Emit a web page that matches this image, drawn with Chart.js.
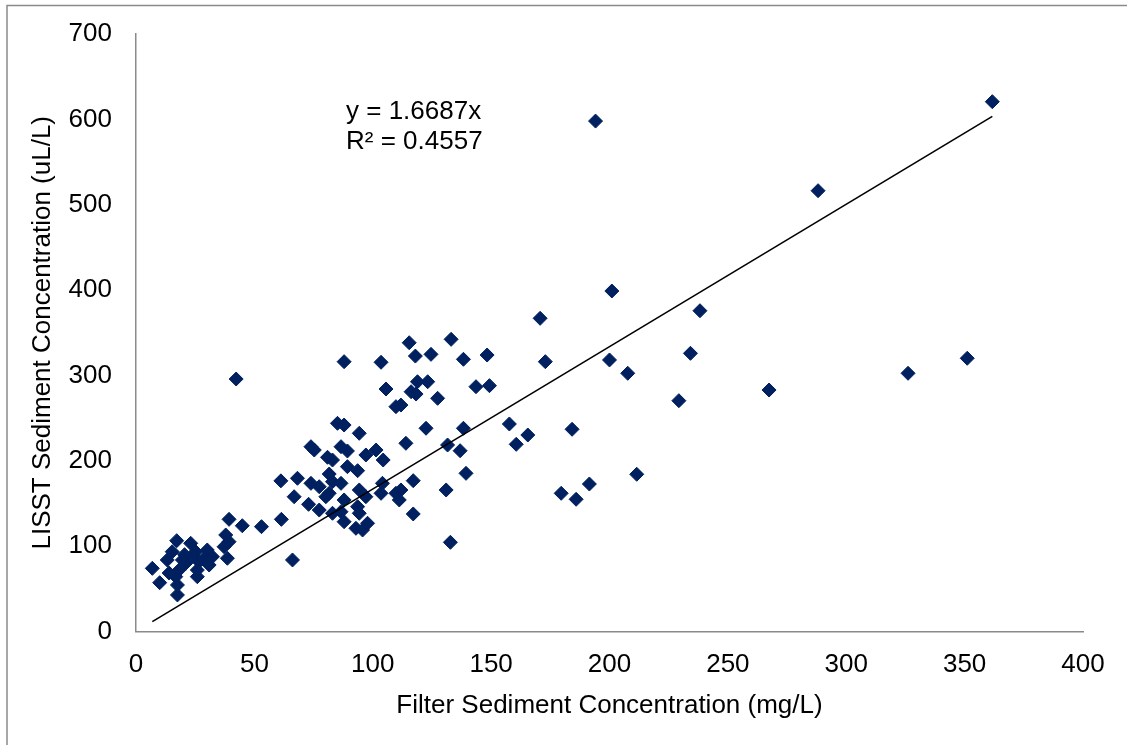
<!DOCTYPE html>
<html>
<head>
<meta charset="utf-8">
<script src="https://cdn.jsdelivr.net/npm/chart.js@4"></script>
<style>
  html, body { margin: 0; padding: 0; background: #fff; }
  #wrap { position: relative; width: 1127px; height: 745px; }
  canvas { display: block; }
</style>
</head>
<body>
<div id="wrap"><canvas id="c" width="1127" height="745"></canvas></div>
<script>
// Filter sediment concentration (mg/L)
const filterX = [
  6.9, 10.0, 17.5, 17.5, 16.8, 13.2, 15.3, 17.2, 23.1, 19.6, 25.2, 30.1, 32.3, 30.9, 25.9, 18.2, 21.0, 26.6, 14.0,
  24.0, 28.5, 20.5, 25.9,
  37.9, 39.3, 37.2, 38.6, 39.3, 44.9, 53.0, 61.4, 66.1, 42.3,
  61.2, 66.8, 68.2, 72.9, 73.9, 73.9, 75.3, 77.4, 77.4, 80.2, 80.9, 81.6, 81.6, 83.0, 83.0, 83.0,
  85.1, 86.6, 86.6, 86.6, 87.9, 87.9, 87.9, 87.9, 89.3, 89.3, 92.9, 93.6, 93.6, 94.3, 94.3, 94.3,
  95.7, 97.1, 97.1, 97.8, 101.4, 103.5, 103.5, 104.1, 104.4, 105.6, 109.8, 109.8, 111.2, 111.9, 111.9,
  114.0, 115.4, 116.2, 117.1, 117.1, 118.0, 118.3, 118.9, 122.5, 123.2, 124.6, 127.4, 131.0, 131.6,
  132.8, 133.1, 136.9, 138.3, 138.3, 139.4, 143.6, 148.3, 149.3, 157.7, 160.6, 165.5, 170.7, 172.9,
  179.6, 184.2, 185.9, 191.5, 194.1, 200.0, 201.0, 207.7, 211.5, 229.3, 234.2, 238.2, 267.4, 288.1,
  326.1, 351.1, 361.7
];
// LISST sediment concentration (uL/L)
const lisstY = [
  74.0, 57.2, 42.8, 54.5, 64.2, 83.8, 93.5, 106.4, 103.3, 83.8, 93.5, 95.5, 87.6, 77.9, 72.0, 72.0, 79.9, 81.8, 68.5,
  88.0, 85.0, 90.0, 64.2,
  113.1, 105.2, 99.3, 85.8, 131.4, 123.9, 122.8, 131.4, 83.8, 295.8,
  176.5, 157.9, 179.5, 149.0, 173.6, 216.5, 212.6, 169.6, 142.3, 157.9, 204.1, 184.5, 161.9, 200.9, 175.5, 138.5,
  243.9, 216.5, 173.6, 140.3, 241.9, 316.1, 154.1, 128.6, 211.5, 193.1, 120.9, 188.4, 146.2, 232.2, 165.8, 138.5,
  118.9, 206.8, 157.9, 126.8, 212.6, 315.4, 161.9, 173.6, 200.9, 284.1, 263.4, 161.9, 154.1, 265.3, 165.8,
  220.5, 338.3, 280.9, 176.7, 137.7, 322.7, 278.2, 292.6, 238.1, 292.6, 324.7, 273.2, 165.8, 218.5,
  104.5, 342.3, 211.8, 318.9, 238.1, 185.3, 286.8, 323.9, 288.0, 243.1, 219.3, 230.2, 366.9, 316.1,
  161.9, 236.9, 154.9, 172.8, 598.0, 318.1, 398.9, 302.5, 184.2, 270.4, 325.9, 375.8, 282.9, 516.4,
  302.5, 320.1, 620.7
];
const xTicks = [0, 50, 100, 150, 200, 250, 300, 350, 400];
const yTicks = [0, 100, 200, 300, 400, 500, 600, 700];
const trendSlope = 1.6687;
const trendXRange = [6.9, 361.7];
const equationLines = ['y = 1.6687x', 'R\u00B2 = 0.4557'];

const points = filterX.map((x, i) => ({ x: x, y: lisstY[i] }));
const trendPts = trendXRange.map(x => ({ x: x, y: trendSlope * x }));

const FONT = 'Liberation Sans, Arial, sans-serif';

const framePlugin = {
  id: 'frame',
  beforeDraw(chart) {
    const ctx = chart.ctx;
    ctx.save();
    ctx.fillStyle = '#ffffff';
    ctx.fillRect(0, 0, chart.width, chart.height);
    ctx.strokeStyle = '#8a8a8a';
    ctx.lineWidth = 1.5;
    ctx.beginPath();
    ctx.moveTo(7, chart.height);
    ctx.lineTo(7, 5.5);
    ctx.lineTo(chart.width, 5.5);
    ctx.stroke();
    ctx.restore();
  },
  afterDatasetsDraw(chart) {
    const ctx = chart.ctx;
    ctx.save();
    ctx.fillStyle = '#000000';
    ctx.font = '26px ' + FONT;
    ctx.textAlign = 'left';
    ctx.textBaseline = 'middle';
    ctx.fillText(equationLines[0], 346, 112);
    ctx.fillText(equationLines[1], 346, 142);
    ctx.restore();
  }
};

new Chart(document.getElementById('c'), {
  type: 'scatter',
  data: {
    datasets: [
      {
        label: 'LISST vs Filter',
        data: points,
        pointStyle: 'rectRot',
        pointRadius: 7,
        pointHoverRadius: 7,
        backgroundColor: '#002060',
        borderColor: '#002060',
        borderWidth: 1,
        order: 2
      },
      {
        label: 'Trend',
        type: 'line',
        data: trendPts,
        borderColor: '#000000',
        borderWidth: 1.6,
        pointRadius: 0,
        fill: false,
        order: 1
      }
    ]
  },
  plugins: [framePlugin],
  options: {
    responsive: false,
    animation: false,
    events: [],
    layout: { padding: { top: 34, right: 44, bottom: 0, left: 0 } },
    plugins: { legend: { display: false }, tooltip: { enabled: false } },
    scales: {
      x: {
        type: 'linear',
        min: 0, max: 400,
        afterBuildTicks(s) { s.ticks = xTicks.map(v => ({ value: v })); },
        afterFit(s) { s.height = 113.5; s.paddingLeft = 0; s.paddingRight = 0; },
        grid: { display: false, drawTicks: false },
        border: { display: true, color: '#8a8a8a', width: 1.5 },
        ticks: { color: '#000', font: { family: FONT, size: 26 }, padding: 18, maxRotation: 0, autoSkip: false },
        title: { display: true, text: 'Filter Sediment Concentration (mg/L)', color: '#000',
                 font: { family: FONT, size: 26 }, padding: { top: 0, bottom: 24 } }
      },
      y: {
        type: 'linear',
        min: 0, max: 700,
        afterBuildTicks(s) { s.ticks = yTicks.map(v => ({ value: v })); },
        afterFit(s) { s.width = 136; s.paddingTop = 0; s.paddingBottom = 0; },
        grid: { display: false, drawTicks: false },
        border: { display: true, color: '#8a8a8a', width: 1.5 },
        ticks: { color: '#000', font: { family: FONT, size: 26 }, padding: 24, autoSkip: false },
        title: { display: true, text: 'LISST Sediment Concentration (uL/L)', color: '#000',
                 font: { family: FONT, size: 26 }, padding: { top: 27, bottom: 0 } }
      }
    }
  }
});
</script>
</body>
</html>
